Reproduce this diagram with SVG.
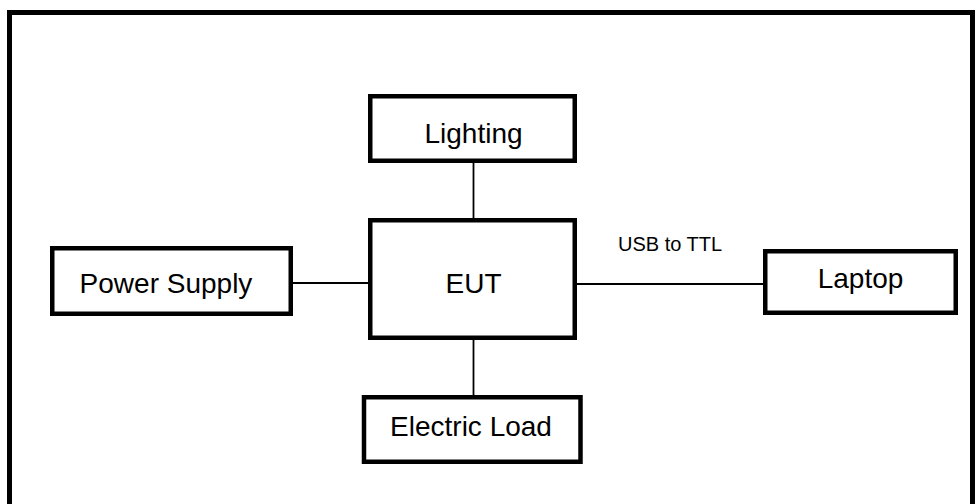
<svg xmlns="http://www.w3.org/2000/svg" width="980" height="504" viewBox="0 0 980 504">
<style>
.box{fill:#fff;stroke:#000;stroke-width:4.5}
.lbl{font-family:"Liberation Sans",Arial,sans-serif;font-size:28px;fill:#000;text-anchor:middle}
.small{font-family:"Liberation Sans",Arial,sans-serif;font-size:20px;fill:#000}
.conn{stroke:#000;stroke-width:1.8;fill:none}
</style>
<rect width="980" height="504" fill="#fff"/>
<path d="M9.5 510 V12.5 H972.5 V510" fill="none" stroke="#000" stroke-width="5"/>
<g id="connectors">
<line class="conn" x1="473.5" y1="163" x2="473.5" y2="218"/>
<line class="conn" x1="473.5" y1="340" x2="473.5" y2="395"/>
<line class="conn" x1="293" y1="283" x2="368" y2="283"/>
<line class="conn" x1="577" y1="284" x2="763" y2="284"/>
<text class="small" x="618" y="251">USB to TTL</text>
</g>
<g id="lighting">
<rect class="box" x="370.25" y="96.25" width="204.5" height="64.5"/>
<text class="lbl" x="473.5" y="143">Lighting</text>
</g>
<g id="eut">
<rect class="box" x="370.25" y="220.25" width="204.5" height="117.5"/>
<text class="lbl" x="473.5" y="293">EUT</text>
</g>
<g id="power-supply">
<rect class="box" x="52.25" y="248.25" width="238.5" height="65.5"/>
<text class="lbl" x="166" y="293">Power Supply</text>
</g>
<g id="laptop">
<rect class="box" x="765.25" y="251.25" width="190.5" height="61.5"/>
<text class="lbl" x="860.5" y="288">Laptop</text>
</g>
<g id="electric-load">
<rect class="box" x="364" y="397.25" width="216.5" height="64.5"/>
<text class="lbl" x="471" y="436">Electric Load</text>
</g>
</svg>
